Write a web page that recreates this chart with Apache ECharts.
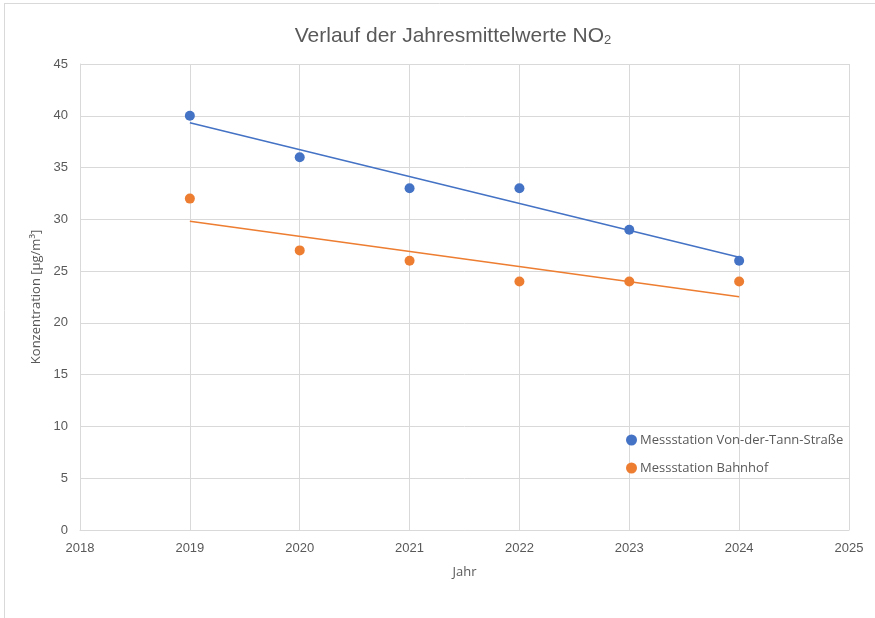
<!DOCTYPE html>
<html><head><meta charset="utf-8">
<script src="https://cdn.jsdelivr.net/npm/echarts@6/dist/echarts.min.js"></script>
<style>html,body{margin:0;padding:0;background:#fff}#c{width:875px;height:618px}</style>
</head><body><div id="c"></div>
<script>
const years = [2019, 2020, 2021, 2022, 2023, 2024];
const vonDerTann = [40, 36, 33, 33, 29, 26];
const bahnhof = [32, 27, 26, 24, 24, 24];
// linear trend line endpoints (2019, 2024) as shown in the reference
const trendYears = [2019, 2024];
const trendVonDerTann = [39.33, 26.33];
const trendBahnhof = [29.81, 22.52];
const seriesNames = ['Messstation Von-der-Tann-Straße', 'Messstation Bahnhof'];
const colors = ['#4472C4', '#ED7D31'];

const chart = echarts.init(document.getElementById('c'), null, {renderer: 'canvas'});
const pair = (xs, ys) => xs.map((x, i) => [x, ys[i]]);
const tickFont = 'Liberation Sans, sans-serif';
const uiFont = 'Open Sans, Noto Sans, sans-serif';
chart.setOption({
  animation: false,
  title: {
    text: 'Verlauf der Jahresmittelwerte NO{sub|2}',
    left: 448, top: 21, textAlign: 'center',
    textStyle: {fontFamily: tickFont, fontSize: 21, fontWeight: 'normal', color: '#595959',
      rich: {sub: {fontFamily: tickFont, fontSize: 13, color: '#595959', verticalAlign: 'bottom', padding: [8, 0, 0, 0]}}}
  },
  graphic: [
    {type: 'line', shape: {x1: 4.5, y1: 3, x2: 4.5, y2: 618}, style: {stroke: '#d9d9d9', lineWidth: 1}},
    {type: 'line', shape: {x1: 4.5, y1: 3.5, x2: 875, y2: 3.5}, style: {stroke: '#d9d9d9', lineWidth: 1}}
  ],
  legend: {
    orient: 'vertical', left: 621, top: 426, itemGap: 10,
    itemWidth: 11, itemHeight: 11,
    data: [{name: seriesNames[0], icon: 'circle'}, {name: seriesNames[1], icon: 'circle'}],
    textStyle: {fontFamily: uiFont, fontSize: 13, color: '#595959', padding: [0, 0, 0, -2], lineHeight: 18}
  },
  grid: {left: 80, right: 26, top: 64, bottom: 88, containLabel: false},
  xAxis: {
    type: 'value', min: 2018, max: 2025, interval: 1,
    name: 'Jahr', nameLocation: 'middle', nameGap: 36,
    nameTextStyle: {fontFamily: uiFont, fontSize: 13, color: '#595959'},
    axisLine: {show: true, lineStyle: {color: '#d9d9d9'}},
    axisTick: {show: false},
    axisLabel: {fontFamily: tickFont, fontSize: 13, color: '#595959', margin: 12, formatter: v => String(v)},
    splitLine: {show: true, lineStyle: {color: '#d9d9d9', width: 1}}
  },
  yAxis: {
    type: 'value', min: 0, max: 45, interval: 5,
    name: 'Konzentration [µg/m³]', nameLocation: 'middle', nameGap: 35,
    nameTextStyle: {fontFamily: uiFont, fontSize: 13, color: '#595959'},
    axisLine: {show: true, lineStyle: {color: '#d9d9d9'}},
    axisTick: {show: false},
    axisLabel: {fontFamily: tickFont, fontSize: 13, color: '#595959', margin: 12},
    splitLine: {show: true, lineStyle: {color: '#d9d9d9', width: 1}}
  },
  series: [
    {name: seriesNames[0], type: 'scatter', symbol: 'circle', symbolSize: 10, itemStyle: {color: colors[0], opacity: 1},
     data: pair(years, vonDerTann), z: 3},
    {name: seriesNames[1], type: 'scatter', symbol: 'circle', symbolSize: 10, itemStyle: {color: colors[1], opacity: 1},
     data: pair(years, bahnhof), z: 3},
    {name: 'TrendVon', type: 'line', showSymbol: false, symbol: 'none', silent: true,
     lineStyle: {color: colors[0], width: 1.5}, data: pair(trendYears, trendVonDerTann), z: 2},
    {name: 'TrendBahnhof', type: 'line', showSymbol: false, symbol: 'none', silent: true,
     lineStyle: {color: colors[1], width: 1.5}, data: pair(trendYears, trendBahnhof), z: 2}
  ]
});
</script></body></html>
